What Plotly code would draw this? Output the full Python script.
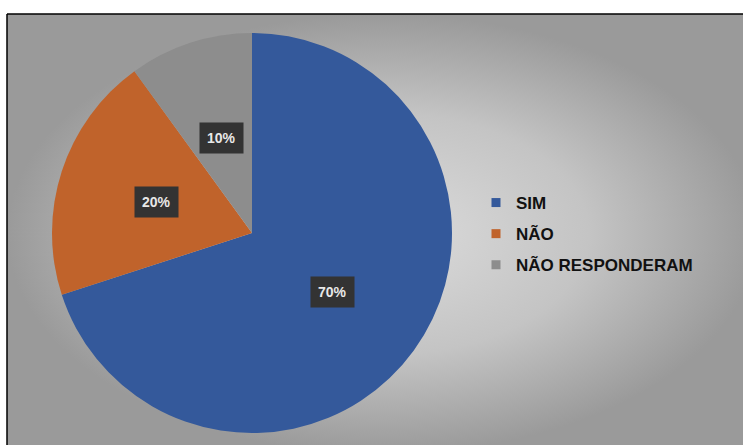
import math
import plotly.graph_objects as go

labels = ["SIM", "NÃO", "NÃO RESPONDERAM"]
values = [70, 20, 10]
colors = ["#34599b", "#c0632b", "#8d8d8d"]

W, H = 743, 445
CX, CY, R = 252, 233, 200  # pie centre / radius in page pixels

fig = go.Figure()

# background panel with radial gradient
fig.add_trace(go.Scatter(
    x=[7 / W, 1.02, 1.02, 7 / W, 7 / W], y=[-0.02, -0.02, 1 - 14 / H, 1 - 14 / H, -0.02],
    mode="lines", fill="toself", line=dict(width=0), hoverinfo="skip", showlegend=False,
    fillgradient=dict(type="radial", colorscale=[[0, "#dcdcdc"], [0.55, "#c4c4c4"], [1, "#9a9a9a"]]),
))

dom_x = [(CX - R) / W, (CX + R) / W]
dom_y = [1 - (CY + R) / H, 1 - (CY - R) / H]

fig.add_trace(go.Pie(
    labels=labels, values=values, sort=False, direction="clockwise", rotation=0,
    marker=dict(colors=colors, line=dict(width=0)), textinfo="none",
    domain=dict(x=dom_x, y=dom_y), showlegend=False, hoverinfo="label+percent",
))

# legend entries
for i, (lab, col) in enumerate(zip(labels, colors)):
    fig.add_trace(go.Scatter(
        x=[None], y=[None], mode="markers", name=lab, legendgroup=f"g{i}",
        marker=dict(symbol="square", size=9, color=col),
    ))

# percentage labels with dark boxes
total = sum(values)
cum = 0
for v in values:
    mid = (cum + v / 2) / total
    cum += v
    th = 2 * math.pi * mid
    px = CX + 0.5 * R * math.sin(th)
    py = CY - 0.5 * R * math.cos(th)
    fig.add_annotation(
        x=px / W, y=1 - py / H, xref="paper", yref="paper", xanchor="center", yanchor="middle",
        text=f"<b>{round(v / total * 100)}%</b>", showarrow=False,
        font=dict(family="Liberation Sans", size=14, color="#e8e8e8"),
        bgcolor="#333333", borderpad=7,
    )

fig.add_shape(type="line", xref="paper", yref="paper", x0=7 / W, x1=1.01, y0=1 - 14 / H, y1=1 - 14 / H,
              line=dict(color="black", width=1.5))
fig.add_shape(type="line", xref="paper", yref="paper", x0=7 / W, x1=7 / W, y0=-0.01, y1=1 - 14 / H,
              line=dict(color="black", width=1.5))

fig.update_layout(
    width=W, height=H, margin=dict(l=0, r=0, t=0, b=0),
    paper_bgcolor="white", plot_bgcolor="rgba(0,0,0,0)",
    xaxis=dict(range=[0, 1], visible=False, fixedrange=True),
    yaxis=dict(range=[0, 1], visible=False, fixedrange=True),
    legend=dict(x=476 / W, y=1 - 234 / H, xanchor="left", yanchor="middle",
                font=dict(family="Liberation Sans", size=17, color="#111111", weight="bold"),
                tracegroupgap=6, bgcolor="rgba(0,0,0,0)"),
    showlegend=True,
)

fig.write_html("out.html")
